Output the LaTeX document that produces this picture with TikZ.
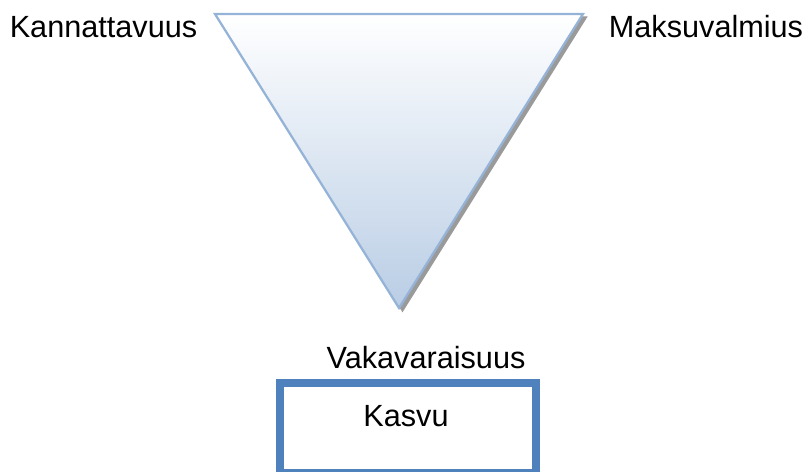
\documentclass[tikz,border=0pt]{standalone}
\usepackage{fontspec}
\setmainfont{Liberation Sans}
\usepackage{xcolor}
\definecolor{triedge}{HTML}{95B3D7}
\definecolor{trifill}{HTML}{B9CDE5}
\definecolor{trishade}{HTML}{9A9A9A}
\definecolor{boxedge}{HTML}{4F81BD}
\tikzset{
  tshadow/.style={fill=trishade, draw=trishade, line width=1pt, line join=miter},
  tbody/.style={top color=white, bottom color=trifill, draw=triedge, line width=1.6pt, line join=miter},
  tlabel/.style={font=\fontsize{21.8}{26}\selectfont, text=black, anchor=base, inner sep=0pt},
  tbox/.style={draw=boxedge, line width=5.5pt, line join=miter},
}
\begin{document}
\begin{tikzpicture}[x=0.025cm, y=-0.025cm]
\useasboundingbox (0,0) rectangle (811,472);
\coordinate (tl) at (215,14);
\coordinate (tr) at (583,14);
\coordinate (tb) at (399,308);
\draw[tshadow] ([shift={(3.5,3)}]tl) -- ([shift={(3.5,3)}]tr) -- ([shift={(3.5,3)}]tb) -- cycle;
\shade[tbody] (tl) -- (tr) -- (tb) -- cycle;
\node[tlabel] (kannattavuus) at (103.5,38) {Kannattavuus};
\node[tlabel] (maksuvalmius) at (706,38) {Maksuvalmius};
\node[tlabel] (vakavaraisuus) at (426,368) {Vakavaraisuus};
\draw[tbox] (280,383) rectangle (536,472.5);
\node[tlabel] (kasvu) at (406,427) {Kasvu};
\end{tikzpicture}
\end{document}
